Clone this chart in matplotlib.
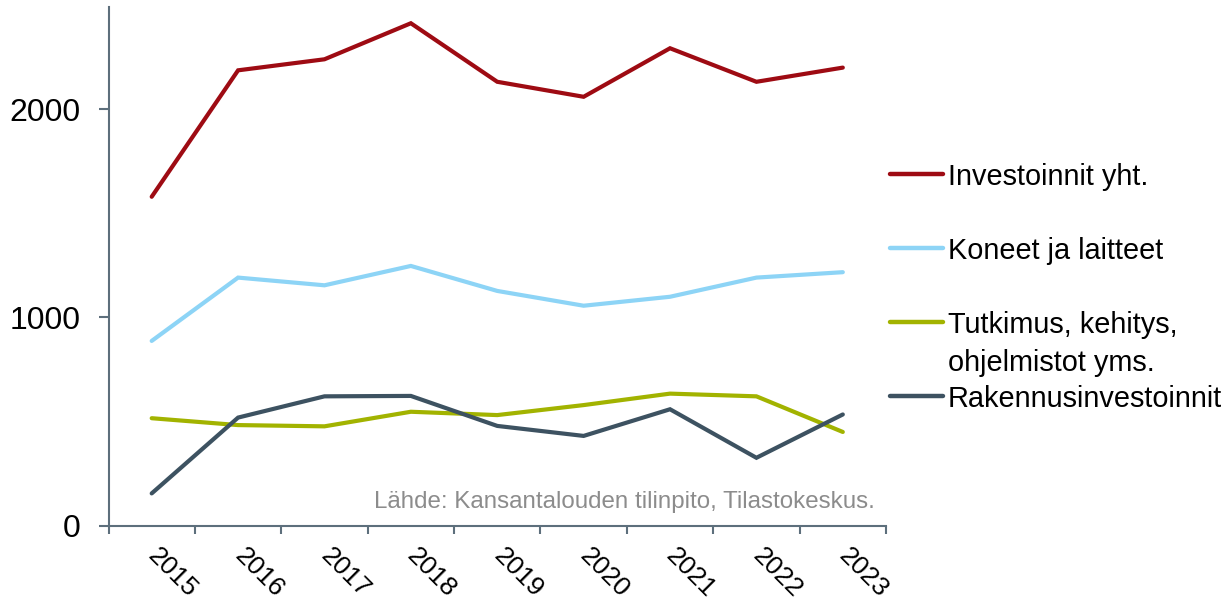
import numpy as np
import matplotlib
matplotlib.use("Agg")
import matplotlib.pyplot as plt
from matplotlib.lines import Line2D

plt.rcParams["font.family"] = ["Liberation Sans", "DejaVu Sans"]

years = ["2015", "2016", "2017", "2018", "2019", "2020", "2021", "2022", "2023"]
investoinnit = [1579, 2186, 2239, 2412, 2131, 2059, 2292, 2131, 2199]
koneet = [887, 1191, 1154, 1247, 1127, 1056, 1099, 1191, 1217]
tutkimus = [516, 483, 477, 547, 531, 579, 634, 621, 450]
rakennus = [155, 519, 621, 623, 479, 431, 559, 326, 534]

series = [
    ("Investoinnit yht.", investoinnit, "#9E0B13"),
    ("Koneet ja laitteet", koneet, "#8DD4F6"),
    ("Tutkimus, kehitys,\nohjelmistot yms.", tutkimus, "#A2B300"),
    ("Rakennusinvestoinnit", rakennus, "#3D5261"),
]
source = "Lähde: Kansantalouden tilinpito, Tilastokeskus."
axis_col = "#5D6F7C"

W, H = 1231, 600
fig = plt.figure(figsize=(W / 100, H / 100), dpi=100)
ax = fig.add_axes([108.5 / W, 1 - 525.7 / H, 777.5 / W, 518.7 / H])

x = np.arange(len(years))
for label, vals, col in series:
    ax.plot(x, vals, color=col, lw=3.0, solid_capstyle="round", solid_joinstyle="miter")

ax.set_xlim(-0.5, len(years) - 0.5)
ax.set_ylim(0, 2490)

for s in ("top", "right"):
    ax.spines[s].set_visible(False)
for s in ("left", "bottom"):
    ax.spines[s].set_color(axis_col)
    ax.spines[s].set_linewidth(1.5)

ax.set_yticks([0, 1000, 2000])
ax.set_yticklabels(["0", "1000", "2000"], fontsize=23)
ax.tick_params(axis="y", length=7, width=1.5, color=axis_col, pad=13)

ax.set_xticks(x)
ax.set_xticklabels(years, fontsize=19, rotation=-45, ha="left", va="center",
                   rotation_mode="anchor")
ax.tick_params(axis="x", which="major", length=0, pad=19)
ax.set_xticks(np.arange(-0.5, len(years)), minor=True)
ax.tick_params(axis="x", which="minor", length=6, width=1.5, color=axis_col)

ax.text(0.986, 0.034, source, transform=ax.transAxes, ha="right", va="baseline",
        fontsize=17.4, color="#8C8C8C")

# legend drawn by hand so the two-line entry keeps even spacing
rows_y = [174, 248, 322, 396]
for (label, vals, col), py in zip(series, rows_y):
    fy = 1 - py / H
    fig.add_artist(Line2D([890 / W, 943 / W], [fy, fy], color=col, lw=3.2,
                          solid_capstyle="round", transform=fig.transFigure))
    for i, part in enumerate(label.split("\n")):
        fig.text(948 / W, 1 - (py + 38 * i) / H, part, ha="left",
                 va="center_baseline", fontsize=20.8)

fig.savefig("out.png", dpi=100)
